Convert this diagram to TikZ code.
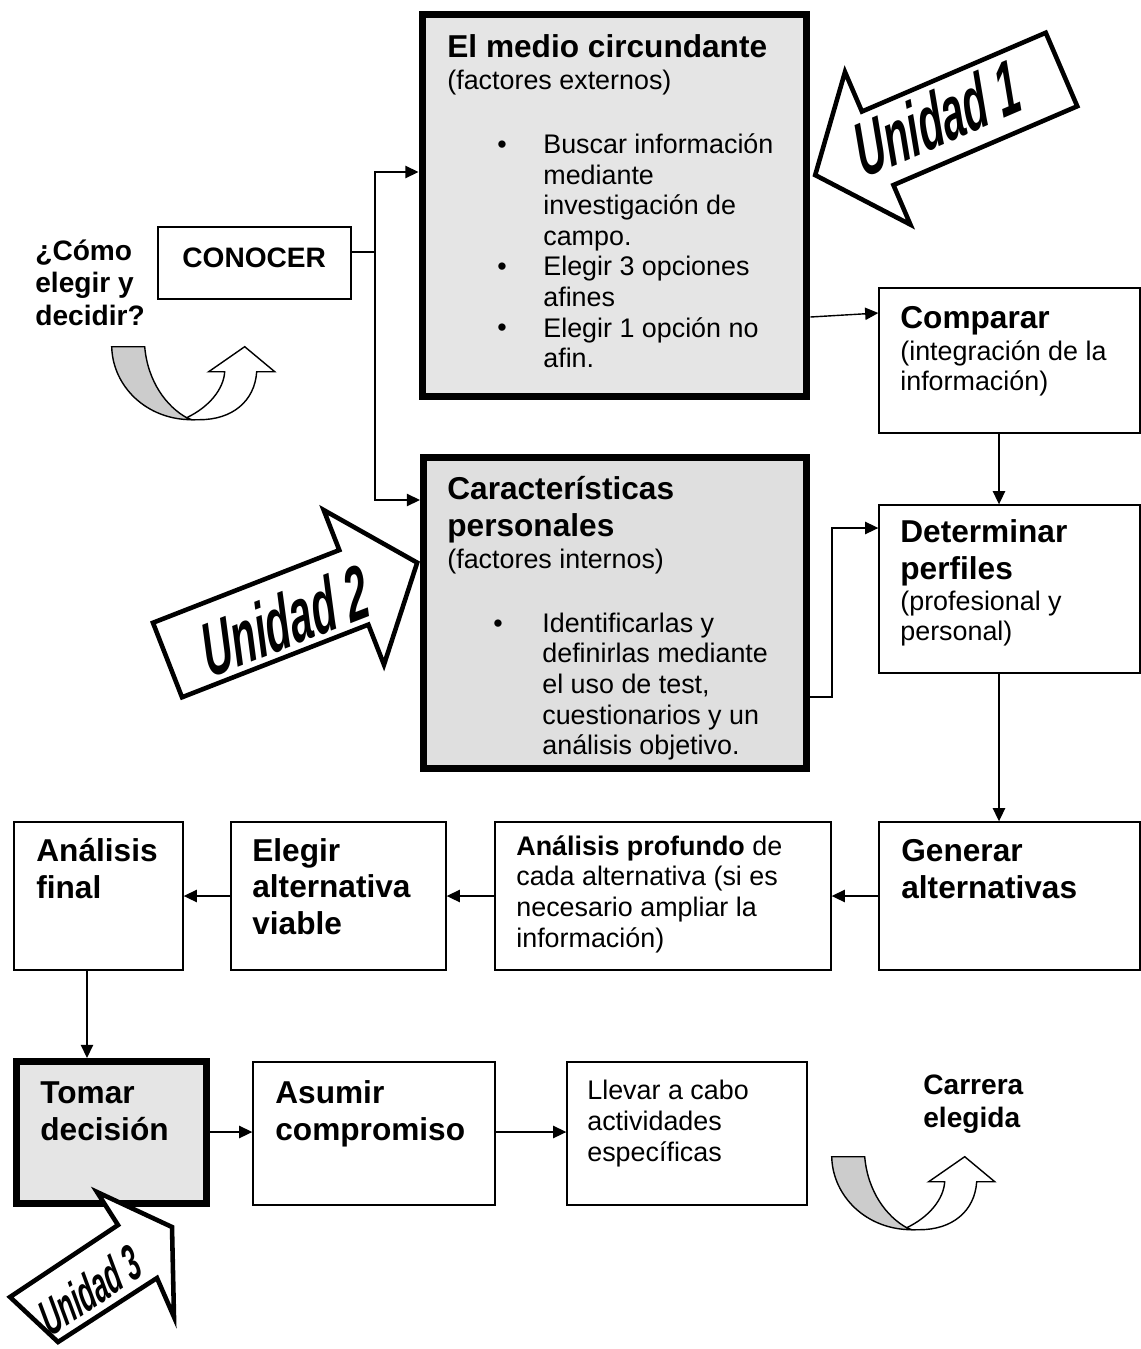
\documentclass[tikz,border=0pt]{standalone}
\usepackage{fontspec}
\setmainfont{Liberation Sans}
\usetikzlibrary{arrows.meta,positioning}

\begin{document}
\begin{tikzpicture}[x=0.02cm,y=-0.02cm,
  box/.style={draw,line width=0.8pt,inner sep=0pt},
  bigbox/.style={draw,line width=4pt,fill=gray!20,inner sep=0pt},
  conn/.style={line width=0.8pt,-{Triangle[length=7.5pt,width=7pt]}},
  head/.style={anchor=base west,align=left,inner sep=0pt,font=\bfseries\fontsize{18}{20.5}\selectfont},
  body/.style={anchor=base west,align=left,inner sep=0pt,font=\fontsize{15.3}{17.4}\selectfont},
  bsmall/.style={anchor=base west,align=left,inner sep=0pt,font=\bfseries\fontsize{16}{18.4}\selectfont},
  dot/.style={anchor=base,inner sep=0pt,font=\fontsize{15.3}{17.4}\selectfont},
  unidad/.style={inner sep=0pt,font=\bfseries\itshape\fontsize{43}{43}\selectfont},
  blockarrow/.pic={
    \draw[line width=2.6pt,fill=white,line join=miter]
      (0,-40) -- (200,-40) -- (200,-83) -- (268,0) -- (200,83) -- (200,40) -- (0,40) -- cycle;
  },
  uturn/.pic={
    \draw[line width=0.8pt,fill=gray!40] (0,0) -- (33,0) .. controls (36,35) and (55,60) .. (75,71)
      -- (80,73) .. controls (35,73) and (1,40) .. (0,0) -- cycle;
    \draw[line width=0.8pt,fill=white] (75,71) .. controls (98,60) and (112,42) .. (113,25)
      -- (97,25) -- (133,0) -- (163,25) -- (145,25) .. controls (143,55) and (120,73) .. (88,73)
      -- (80,73) -- cycle;
  }]
  \useasboundingbox (0,0) rectangle (1141,1349);

  % boxes
  \node[bigbox,minimum width=7.70cm,minimum height=7.66cm] (medio) at (614.5,205.5) {};
  \node[bigbox,fill=gray!25,minimum width=7.66cm,minimum height=6.22cm] (caract) at (615,613) {};
  \node[box,minimum width=3.86cm,minimum height=1.44cm] (conocer) at (254.5,263) {};
  \node[box,minimum width=5.22cm,minimum height=2.90cm] (comparar) at (1009.5,360.5) {};
  \node[box,minimum width=5.22cm,minimum height=3.36cm] (determinar) at (1009.5,589) {};
  \node[box,minimum width=5.22cm,minimum height=2.96cm] (generar) at (1009.5,896) {};
  \node[box,minimum width=6.72cm,minimum height=2.96cm] (profundo) at (663,896) {};
  \node[box,minimum width=4.30cm,minimum height=2.96cm] (elegir) at (338.5,896) {};
  \node[box,minimum width=3.38cm,minimum height=2.96cm] (final) at (98.5,896) {};
  \node[bigbox,minimum width=3.80cm,minimum height=2.84cm] (tomar) at (111.5,1132.5) {};
  \node[box,minimum width=4.84cm,minimum height=2.86cm] (asumir) at (374,1133.5) {};
  \node[box,minimum width=4.80cm,minimum height=2.86cm] (llevar) at (687,1133.5) {};

  % texts (base = last line)
  \node[bsmall] (pregunta) at (35,325) {¿Cómo\\elegir y\\decidir?};
  \node[bsmall] (tConocer) at (182,267) {CONOCER};
  \node[head] (tMedio) at (447,57) {El medio circundante};
  \node[body] (tMedioSub) at (447,89) {(factores externos)};
  \node[body] (tMedioList) at (543,367.6) {Buscar información\\mediante\\investigación de\\campo.\\Elegir 3 opciones\\afines\\Elegir 1 opción no\\afin.};
  \node[dot] (m1) at (502,153) {\textbullet};
  \node[dot] (m2) at (502,275.6) {\textbullet};
  \node[dot] (m3) at (502,336.9) {\textbullet};
  \node[head] (tCaract) at (447,536) {Características\\personales};
  \node[body] (tCaractSub) at (447,568) {(factores internos)};
  \node[body] (tCaractList) at (542,754.6) {Identificarlas y\\definirlas mediante\\el uso de test,\\cuestionarios y un\\análisis objetivo.};
  \node[dot] (c1) at (498,632) {\textbullet};
  \node[head] (tComparar) at (900,328) {Comparar};
  \node[body] (tCompararSub) at (900,390.7) {(integración de la\\información)};
  \node[head] (tDeterminar) at (900,579) {Determinar\\perfiles};
  \node[body] (tDeterminarSub) at (900,640.7) {(profesional y\\personal)};
  \node[head] (tGenerar) at (901,898) {Generar\\alternativas};
  \node[body] (tProfundo) at (516,947) {\textbf{Análisis profundo} de\\cada alternativa (si es\\necesario ampliar la\\información)};
  \node[head] (tElegir) at (252,934) {Elegir\\alternativa\\viable};
  \node[head] (tFinal) at (36,898) {Análisis\\final};
  \node[head] (tTomar) at (40,1140) {Tomar\\decisión};
  \node[head] (tAsumir) at (275,1140) {Asumir\\compromiso};
  \node[body] (tLlevar) at (587,1161) {Llevar a cabo\\actividades\\específicas};
  \node[bsmall] (tCarrera) at (923,1127) {Carrera\\elegida};

  % connectors
  \coordinate (split) at (375,252);
  \draw[line width=0.8pt] (conocer.east |- split) -- (split);
  \draw[conn] (split) |- (medio.west |- 0,172);
  \draw[conn] (split) |- (caract.west |- 0,500);
  \draw[conn] (medio.east |- 0,317) -- (comparar.west |- 0,313);
  \draw[conn] (comparar.south -| 999,0) -- (determinar.north -| 999,0);
  \draw[conn] (caract.east |- 0,697) -| (832,528) -- (determinar.west |- 0,528);
  \draw[conn] (determinar.south -| 999,0) -- (generar.north -| 999,0);
  \draw[conn] (generar) -- (profundo);
  \draw[conn] (profundo) -- (elegir);
  \draw[conn] (elegir) -- (final);
  \draw[conn] (final.south -| 87,0) -- (tomar.north -| 87,0);
  \draw[conn] (tomar.east |- 0,1132) -- (asumir.west |- 0,1132);
  \draw[conn] (asumir.east |- 0,1132) -- (llevar.west |- 0,1132);

  % u-turn arrows
  \pic at (111.7,346.7) {uturn};
  \pic at (831.7,1156.7) {uturn};

  % unidad arrows
  \pic[rotate=203.2] at (1061.5,69.5) {blockarrow};
  \node[unidad,rotate=23.2,xscale=0.55,xslant=0.25] (u1) at (937,118) {Unidad 1};
  \pic[rotate=21.3] at (167.5,660) {blockarrow};
  \node[unidad,rotate=21.3,xscale=0.55,xslant=0.25] (u2) at (285,620) {Unidad 2};
  \draw[line width=2.6pt,fill=white,line join=miter] (97,1192) -- (172,1227) -- (174,1317)
    -- (157,1278) -- (58,1342) -- (10,1297) -- (118,1225) -- cycle;
  \node[unidad,font=\bfseries\itshape\fontsize{28}{28}\selectfont,rotate=34,xscale=0.55,xslant=0.25] (u3) at (90,1290) {Unidad 3};
\end{tikzpicture}
\end{document}
